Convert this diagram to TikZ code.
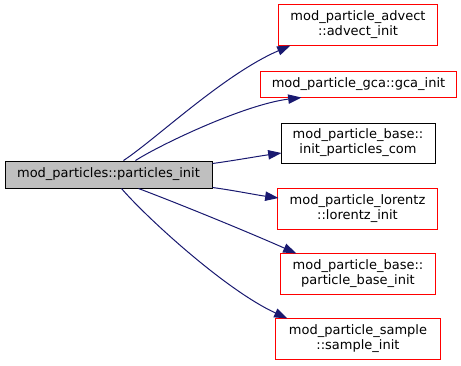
\documentclass[tikz,border=0pt]{standalone}
\usepackage{fontspec}
\setmainfont{DejaVu Sans}
\usepackage{xcolor}
\usetikzlibrary{arrows.meta, calc}

\definecolor{edgeblue}{HTML}{191970}
\definecolor{rootgray}{HTML}{BFBFBF}
\definecolor{boxred}{HTML}{FF0000}

\begin{document}
\begin{tikzpicture}[
        x=0.75pt, y=-0.75pt,
        >={Triangle[length=10pt, width=7pt]},
        every node/.style={font=\fontsize{9.75}{11.25}\selectfont, align=center, inner sep=0pt},
        fn/.style={draw=black, line width=0.75pt},
        fnred/.style={line width=0.75pt},
        call/.style={->, draw=edgeblue, fill=none, line width=0.75pt},
      ]
      \useasboundingbox (0,0) rectangle (461,365);

      \node[fn, fill=rootgray, minimum width=155.25pt, minimum height=20.25pt]
        (root) at (108.5,174.5) {mod\_particles::particles\_init};

      \node[fnred, minimum width=118.5pt, minimum height=30pt]
        (advect) at (358,25) {mod\_particle\_advect\\::advect\_init};
      \node[fnred, minimum width=146.25pt, minimum height=18.75pt]
        (gca) at (358.5,84.5) {mod\_particle\_gca::gca\_init};
      \node[fn, minimum width=115.5pt, minimum height=30pt]
        (com) at (358,143) {mod\_particle\_base::\\init\_particles\_com};
      \node[fnred, minimum width=119.25pt, minimum height=30pt]
        (lorentz) at (357.5,209) {mod\_particle\_lorentz\\::lorentz\_init};
      \node[fnred, minimum width=115.5pt, minimum height=30pt]
        (base) at (358,274) {mod\_particle\_base::\\particle\_base\_init};
      \node[fnred, minimum width=123pt, minimum height=30pt]
        (sample) at (358,339) {mod\_particle\_sample\\::sample\_init};

      % red frames of the undocumented callees
      \foreach \callee in {advect, gca, lorentz, base, sample}
        \draw[boxred, line width=0.75pt] (\callee.south west) rectangle (\callee.north east);

      % calls, upper half
      \draw[call] ($(root.north)+(15,0)$) .. controls +(32,-21) and +(-67,29) .. ($(advect.south west)+(12,0)$);
      \draw[call] ($(root.north)+(27,0)$) .. controls +(25,-16) and +(-57,7) .. ($(gca.south west)+(41,0)$);
      \draw[call] ($(root.east)+(0,-11)$) .. controls +(22,-3) and +(-22,3) .. ($(com.west)+(1,10)$);

      % calls, lower half
      \draw[call] ($(root.east)+(0,13)$) .. controls +(22,3) and +(-22,-3) .. ($(lorentz.west)+(1,-11)$);
      \draw[call] ($(root.south)+(30,0)$) .. controls +(45,17) and +(-45,-20) .. ($(base.north west)+(16,0)$);
      \draw[call] ($(root.south)+(13,0)$) .. controls +(23,27) and +(-63,-29) .. ($(sample.north west)+(12,0)$);
\end{tikzpicture}
\end{document}
